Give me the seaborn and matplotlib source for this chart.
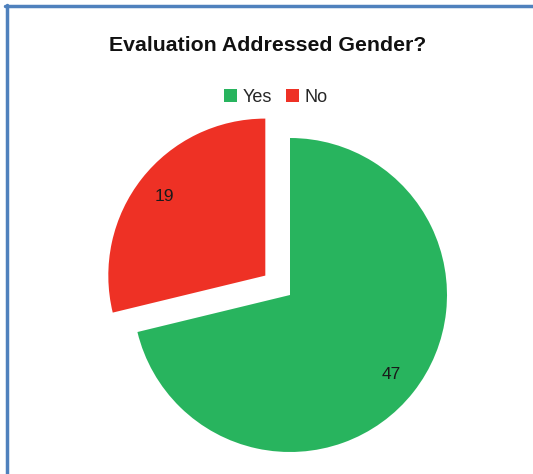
import matplotlib
matplotlib.use("Agg")
import matplotlib.pyplot as plt
from matplotlib.lines import Line2D
from matplotlib.patches import Patch
import seaborn as sns

categories = ["Yes", "No"]
counts = [47, 19]
colors = ["#28B45E", "#EE3125"]

sns.set_theme(style="white")
plt.rcParams["font.family"] = ["Liberation Sans", "DejaVu Sans"]

W, H = 533, 474
fig = plt.figure(figsize=(W / 100, H / 100), dpi=100)
fig.patch.set_facecolor("white")

# pie centre and radius in pixels
cx, cy, r = 290, 295, 157
ax = fig.add_axes([0, 0, 1, 1])
ax.pie(counts, colors=colors, startangle=90, counterclock=False,
       explode=[0, 0.2], labels=None,
       autopct=lambda p: f"{round(p * sum(counts) / 100):d}",
       pctdistance=0.82,
       textprops={"fontsize": 12.5, "color": "#1a1a1a"},
       wedgeprops={"linewidth": 0})
ax.set_xlim(-cx / r, (W - cx) / r)
ax.set_ylim(-(H - cy) / r, cy / r)
ax.set_aspect("equal", adjustable="box")
ax.axis("off")

fig.text(268 / W, 1 - 45 / H, "Evaluation Addressed Gender?", ha="center", va="center",
         fontsize=15.3, fontweight="bold", color="#111111")

handles = [Patch(facecolor=c, edgecolor="none") for c in colors]
fig.legend(handles, categories, loc="center", bbox_to_anchor=(276 / W, 1 - 97 / H),
           ncol=2, frameon=False, fontsize=13, handlelength=0.7, handleheight=0.7,
           handletextpad=0.3, columnspacing=0.8)

# outer frame on the top and left edges
blue = "#4F81BD"
fig.add_artist(Line2D([5 / W, 1], [1 - 6 / H, 1 - 6 / H], color=blue, lw=2.5,
                      transform=fig.transFigure))
fig.add_artist(Line2D([6.5 / W, 6.5 / W], [0, 1 - 5 / H], color=blue, lw=2.5,
                      transform=fig.transFigure))

fig.savefig("out.png", dpi=100, facecolor="white")
